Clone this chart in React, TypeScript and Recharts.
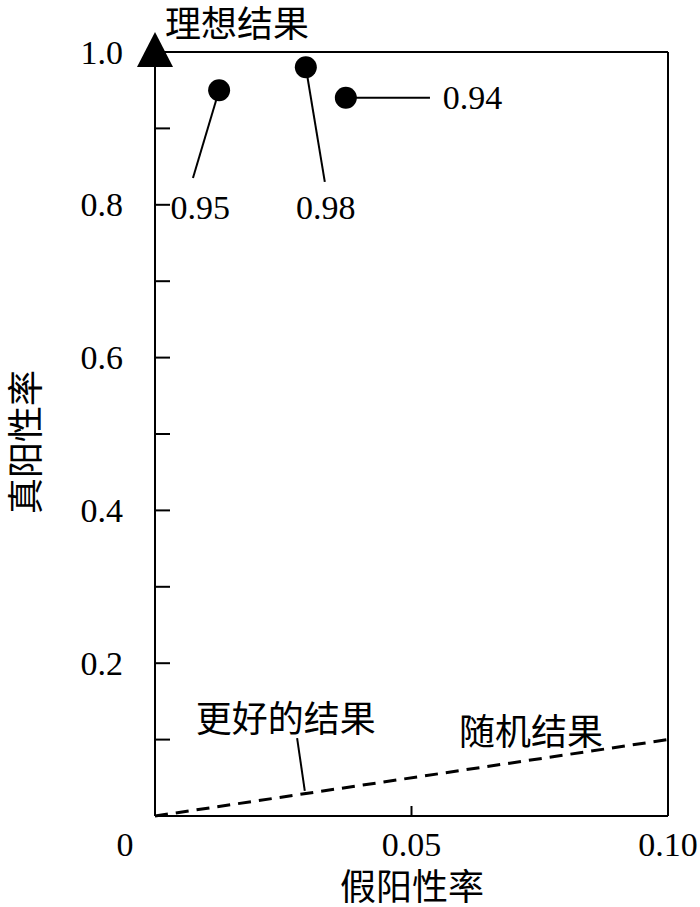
import React from 'react';
import { ScatterChart, Scatter, XAxis, YAxis, ReferenceLine, ReferenceDot } from 'recharts';

// classifier results
const classifierFpr = [0.0125, 0.0294, 0.0372];
const classifierTpr = [0.95, 0.98, 0.94];
const classifierLabels = ['0.95', '0.98', '0.94'];
// leader line ends and label anchors (data coords)
const leaderEndFpr = [0.0074, 0.0331, 0.0536];
const leaderEndTpr = [0.835, 0.83, 0.94];
const labelFpr = [0.0088, 0.0333, 0.0561];
const labelTpr = [0.797, 0.797, 0.94];
const labelAnchors = ['middle', 'middle', 'start'];

// ideal result
const idealFpr = [0];
const idealTpr = [1.0];

// random result diagonal
const randomFpr = [0, 0.1];
const randomTpr = [0, 0.1];

// text annotations
const noteTexts = ['理想结果', '更好的结果', '随机结果'];
const noteFpr = [0.016, 0.0255, 0.0733];
const noteTpr = [1.041, 0.131, 0.114];
const betterLeaderFpr = [0.0277, 0.0292];
const betterLeaderTpr = [0.102, 0.033];

// axis ticks
const xTicks = [0, 0.05, 0.1];
const xTickLabels = ['0', '0.05', '0.10'];
const yTicks = [0, 0.1, 0.2, 0.3, 0.4, 0.5, 0.6, 0.7, 0.8, 0.9, 1.0];
const yLabeled = [0.2, 0.4, 0.6, 0.8, 1.0];

const NUM_FONT = '"Liberation Serif", "Noto Sans CJK SC", serif';
const CJK_FONT = '"Noto Sans CJK SC", "Liberation Serif", sans-serif';
const NUM_SIZE = 34;
const CJK_SIZE = 36;

const classifierData = classifierFpr.map((x, i) => ({ x, y: classifierTpr[i] }));
const idealData = idealFpr.map((x, i) => ({ x, y: idealTpr[i] }));
const randomData = randomFpr.map((x, i) => ({ x, y: randomTpr[i] }));

const YTick = (props: any) => {
  const { x, y, payload } = props;
  const v = payload.value;
  const labeled = yLabeled.some((t) => Math.abs(t - v) < 1e-9);
  return (
    <g>
      {v > 1e-9 && v < 1 - 1e-9 && <line x1={x} y1={y} x2={x + 15} y2={y} stroke="#000" strokeWidth={2} />}
      {labeled && (
        <text x={x - 32} y={y} textAnchor="end" dominantBaseline="central" fontFamily={NUM_FONT} fontSize={NUM_SIZE} fill="#000">
          {v.toFixed(1)}
        </text>
      )}
    </g>
  );
};

const XTick = (props: any) => {
  const { x, y, payload, index } = props;
  const v = payload.value;
  const isZero = Math.abs(v) < 1e-9;
  const isEnd = Math.abs(v - 0.1) < 1e-9;
  return (
    <g>
      {!isZero && !isEnd && <line x1={x} y1={y} x2={x} y2={y - 10} stroke="#000" strokeWidth={2} />}
      <text x={isZero ? x - 30 : x} y={y + 28} textAnchor="middle" dominantBaseline="central" fontFamily={NUM_FONT} fontSize={NUM_SIZE} fill="#000">
        {xTickLabels[index] ?? String(v)}
      </text>
    </g>
  );
};

const Dot = (props: any) => <circle cx={props.cx} cy={props.cy} r={11} fill="#000" />;
const Triangle = (props: any) => {
  const { cx, cy } = props;
  return <polygon points={`${cx},${cy - 20} ${cx - 18},${cy + 15} ${cx + 18},${cy + 15}`} fill="#000" />;
};

export default function App() {
  return (
    <div style={{ position: 'absolute', left: 0, top: 0, background: '#fff' }}>
      <ScatterChart width={700} height={907} margin={{ top: 52, right: 32, bottom: 51, left: 95 }}>
        <XAxis
          type="number"
          dataKey="x"
          domain={[0, 0.1]}
          ticks={xTicks}
          interval={0}
          tickSize={0}
          tickMargin={0}
          tickLine={false}
          tick={<XTick />}
          axisLine={{ stroke: '#000', strokeWidth: 2 }}
          height={40}
          label={{
            content: () => (
              <text x={412} y={884} textAnchor="middle" dominantBaseline="central" fontFamily={CJK_FONT} fontSize={CJK_SIZE} fill="#000">
                假阳性率
              </text>
            ),
          }}
        />
        <YAxis
          type="number"
          dataKey="y"
          domain={[0, 1]}
          ticks={yTicks}
          interval={0}
          tickSize={0}
          tickMargin={0}
          tickLine={false}
          tick={<YTick />}
          axisLine={{ stroke: '#000', strokeWidth: 2 }}
          width={60}
          label={{
            content: () => (
              <text x={23} y={442} transform="rotate(-90 23 442)" textAnchor="middle" dominantBaseline="central" fontFamily={CJK_FONT} fontSize={CJK_SIZE} fill="#000">
                真阳性率
              </text>
            ),
          }}
        />
        <ReferenceLine y={1} stroke="#000" strokeWidth={2} />
        <ReferenceLine x={0.1} stroke="#000" strokeWidth={2} />
        <Scatter
          data={randomData}
          line={{ stroke: '#000', strokeWidth: 3, strokeDasharray: '13 8' }}
          shape={() => null}
          isAnimationActive={false}
        />
        {classifierData.map((d, i) => (
          <ReferenceLine
            key={'ld' + i}
            segment={[
              { x: d.x, y: d.y },
              { x: leaderEndFpr[i], y: leaderEndTpr[i] },
            ]}
            stroke="#000"
            strokeWidth={2}
          />
        ))}
        <ReferenceLine
          segment={[
            { x: betterLeaderFpr[0], y: betterLeaderTpr[0] },
            { x: betterLeaderFpr[1], y: betterLeaderTpr[1] },
          ]}
          stroke="#000"
          strokeWidth={2}
        />
        <Scatter data={classifierData} shape={<Dot />} isAnimationActive={false} />
        <Scatter data={idealData} shape={<Triangle />} isAnimationActive={false} />
        {classifierLabels.map((t, i) => (
          <ReferenceDot
            key={'lb' + i}
            x={labelFpr[i]}
            y={labelTpr[i]}
            ifOverflow="visible"
            shape={(p: any) => (
              <text x={p.cx} y={p.cy} textAnchor={labelAnchors[i] as any} dominantBaseline="central" fontFamily={NUM_FONT} fontSize={NUM_SIZE} fill="#000">
                {t}
              </text>
            )}
          />
        ))}
        {noteTexts.map((t, i) => (
          <ReferenceDot
            key={'nt' + i}
            x={noteFpr[i]}
            y={noteTpr[i]}
            ifOverflow="visible"
            shape={(p: any) => (
              <text x={p.cx} y={p.cy} textAnchor="middle" dominantBaseline="central" fontFamily={CJK_FONT} fontSize={CJK_SIZE} fill="#000">
                {t}
              </text>
            )}
          />
        ))}
      </ScatterChart>
    </div>
  );
}
